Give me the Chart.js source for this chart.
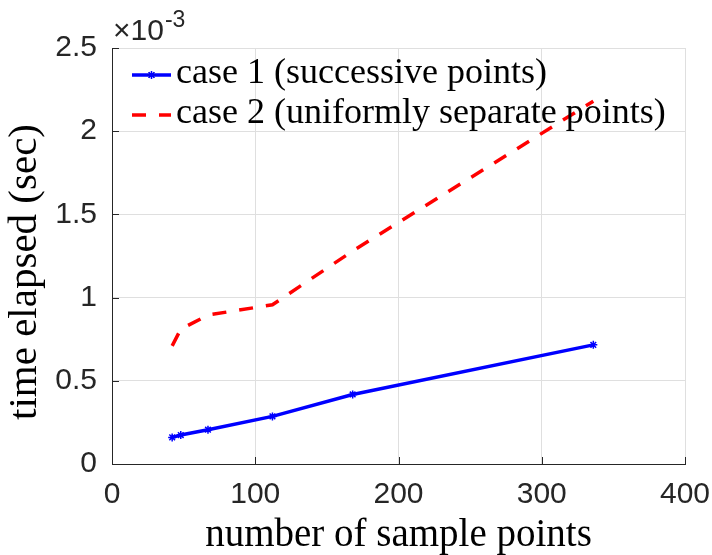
<!DOCTYPE html>
<html>
<head>
<meta charset="utf-8">
<script src="https://cdn.jsdelivr.net/npm/chart.js@4"></script>
<style>
  html, body { margin: 0; padding: 0; background: #fff; }
  #wrap { width: 712px; height: 555px; }
</style>
</head>
<body>
<div id="wrap"><canvas id="chart" width="712" height="555"></canvas></div>
<script>
// values
const sampleCounts = [42, 48, 67, 112, 168, 336];
const case1Times = [0.160e-3, 0.174e-3, 0.206e-3, 0.286e-3, 0.418e-3, 0.716e-3];
const case2Times = [0.71e-3, 0.81e-3, 0.895e-3, 0.957e-3, 1.28e-3, 2.18e-3];
const seriesNames = ['case 1 (successive points)', 'case 2 (uniformly separate points)'];
const xTicks = [0, 100, 200, 300, 400];
const yTicks = [0, 0.5e-3, 1e-3, 1.5e-3, 2e-3, 2.5e-3];
const yTickLabels = ['0', '0.5', '1', '1.5', '2', '2.5'];
const xTitle = 'number of sample points';
const yTitle = 'time elapsed (sec)';

const INK = '#262626';
const GRID = '#dfdfdf';
const SERIF = '"Liberation Serif", "DejaVu Serif", serif';
const SANS = '"Liberation Sans", Arial, sans-serif';

function pts(xs, ys) {
  return xs.map((x, i) => ({ x, y: ys[i] }));
}

function yLabel(v) {
  const i = yTicks.findIndex(t => Math.abs(t - v) < 1e-9);
  return i >= 0 ? yTickLabels[i] : '';
}

// inward tick marks, axis titles, exponent label and legend (MATLAB look)
const decor = {
  id: 'decor',
  afterDraw(chart) {
    const { ctx, chartArea: a, scales } = chart;
    const xs = scales.x, ys = scales.y;
    ctx.save();
    ctx.strokeStyle = INK;
    ctx.lineWidth = 1;
    ctx.beginPath();
    yTicks.forEach(v => {
      const py = Math.round(ys.getPixelForValue(v)) + 0.5;
      ctx.moveTo(a.left, py); ctx.lineTo(a.left + 7, py);
    });
    xTicks.forEach(v => {
      const px = Math.round(xs.getPixelForValue(v)) + 0.5;
      ctx.moveTo(px, a.bottom); ctx.lineTo(px, a.bottom - 7);
    });
    ctx.stroke();

    // axis titles
    ctx.fillStyle = '#000';
    ctx.textAlign = 'center';
    ctx.textBaseline = 'alphabetic';
    ctx.font = '39px ' + SERIF;
    ctx.fillText(xTitle, (a.left + a.right) / 2, 546);
    ctx.save();
    ctx.translate(36, 272);
    ctx.rotate(-Math.PI / 2);
    ctx.font = '41px ' + SERIF;
    ctx.fillText(yTitle, 0, 0);
    ctx.restore();

    // x10^-3
    ctx.fillStyle = INK;
    ctx.textAlign = 'left';
    ctx.font = '30px ' + SANS;
    ctx.fillText('\u00d710', 113, 40);
    const w = ctx.measureText('\u00d710').width;
    ctx.font = '23px ' + SANS;
    ctx.fillText('-3', 113 + w + 1, 27);

    // legend
    const rows = [75, 115];
    chart.data.datasets.forEach((ds, i) => {
      const y = rows[i];
      ctx.save();
      ctx.strokeStyle = ds.borderColor;
      ctx.lineWidth = ds.borderWidth;
      ctx.setLineDash(ds.borderDash || []);
      ctx.beginPath();
      ctx.moveTo(132, y); ctx.lineTo(171, y);
      ctx.stroke();
      ctx.restore();
      if (ds.pointRadius > 0) {
        Chart.helpers.drawPoint(ctx, {
          pointStyle: ds.pointStyle, radius: ds.pointRadius, rotation: 0,
          borderWidth: ds.pointBorderWidth
        }, 151.5, y);
        ctx.strokeStyle = ds.borderColor;
        ctx.lineWidth = ds.pointBorderWidth;
        ctx.stroke();
      }
      ctx.fillStyle = '#000';
      ctx.font = '36px ' + SERIF;
      ctx.textAlign = 'left';
      ctx.fillText(ds.label, 176, y + 8);
    });
    ctx.restore();
  }
};

new Chart(document.getElementById('chart'), {
  type: 'line',
  data: {
    datasets: [{
      label: seriesNames[0],
      data: pts(sampleCounts, case1Times),
      borderColor: '#0000ff',
      backgroundColor: '#0000ff',
      borderWidth: 3.5,
      pointStyle: 'star',
      pointRadius: 4,
      pointBorderWidth: 1.5,
      pointBorderColor: '#0000ff',
      tension: 0
    }, {
      label: seriesNames[1],
      data: pts(sampleCounts, case2Times),
      borderColor: '#ff0000',
      backgroundColor: '#ff0000',
      borderWidth: 3.5,
      borderDash: [14, 13],
      borderCapStyle: 'butt',
      pointRadius: 0,
      tension: 0
    }]
  },
  options: {
    responsive: false,
    animation: false,
    devicePixelRatio: 1,
    layout: { padding: { top: 48, right: 27, left: 0, bottom: 0 } },
    plugins: { legend: { display: false }, tooltip: { enabled: false } },
    scales: {
      x: {
        type: 'linear',
        min: 0, max: 400,
        afterFit: s => { s.height = 91; s.paddingLeft = 0; s.paddingRight = 0; },
        afterBuildTicks: s => { s.ticks = xTicks.map(v => ({ value: v })); },
        grid: { color: GRID, drawTicks: false },
        border: { color: INK, width: 1 },
        ticks: { color: INK, font: { family: SANS, size: 30 }, padding: 13, maxRotation: 0 }
      },
      y: {
        min: 0, max: 2.5e-3,
        afterFit: s => { s.width = 112; s.paddingTop = 0; s.paddingBottom = 0; },
        afterBuildTicks: s => { s.ticks = yTicks.map(v => ({ value: v })); },
        grid: { color: GRID, drawTicks: false },
        border: { color: INK, width: 1 },
        ticks: { color: INK, font: { family: SANS, size: 30 }, padding: 15, callback: v => yLabel(v) }
      }
    }
  },
  plugins: [decor]
});
</script>
</body>
</html>
